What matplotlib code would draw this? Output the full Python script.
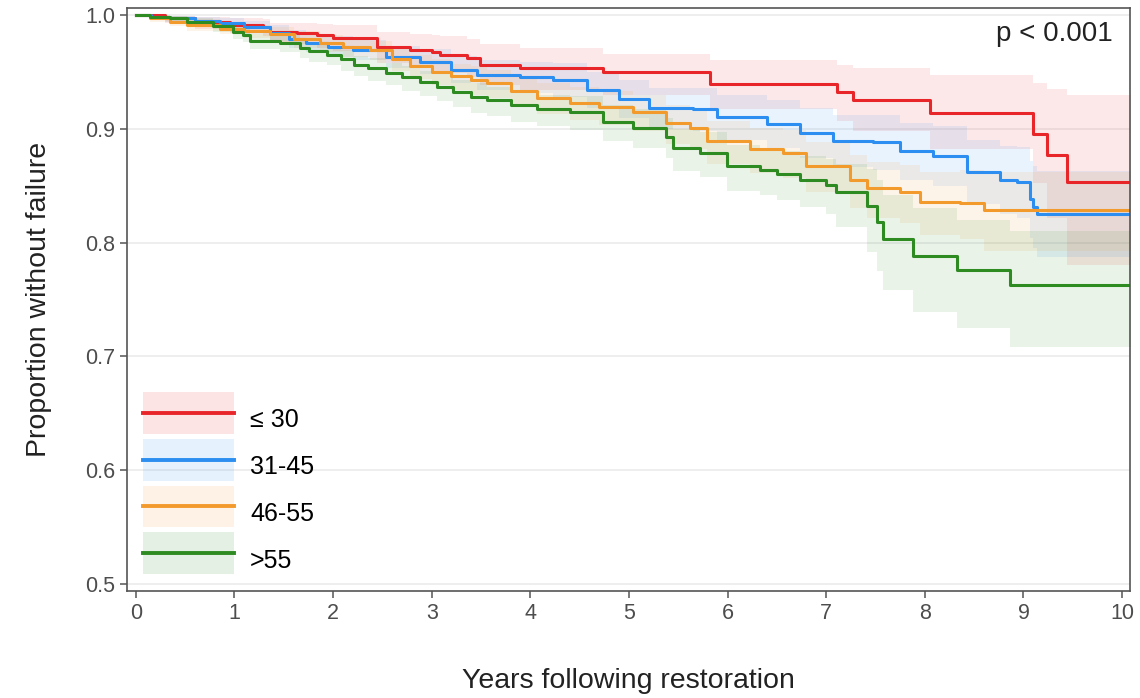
import matplotlib.pyplot as plt
from matplotlib.legend_handler import HandlerPatch
from matplotlib.lines import Line2D
from matplotlib.patches import Patch, Rectangle

# Kaplan-Meier steps (time in years, survival, CI)
red_t = [0, 0.3, 0.6, 0.95, 1.29, 1.36, 1.63, 1.84, 2.0, 2.44, 2.78, 3.0, 3.08, 3.36, 3.49, 3.9,
         4.74, 5.82, 7.11, 7.27, 8.05, 9.1, 9.24, 9.44, 10.1]
red_s = [1.0, 0.997, 0.994, 0.991, 0.989, 0.985, 0.984, 0.982, 0.98, 0.972, 0.969, 0.967, 0.965,
         0.962, 0.956, 0.953, 0.95, 0.939, 0.932, 0.925, 0.914, 0.895, 0.877, 0.853, 0.853]
red_lo = [1.0, 0.993, 0.988, 0.984, 0.981, 0.976, 0.974, 0.971, 0.968, 0.958, 0.954, 0.951, 0.949,
          0.945, 0.938, 0.934, 0.93, 0.917, 0.907, 0.898, 0.882, 0.852, 0.822, 0.78, 0.78]
red_hi = [1.0, 0.999, 0.998, 0.997, 0.996, 0.993, 0.993, 0.992, 0.991, 0.985, 0.983, 0.982, 0.981,
          0.979, 0.974, 0.971, 0.966, 0.96, 0.956, 0.953, 0.947, 0.94, 0.935, 0.93, 0.93]

blue_t = [0, 0.15, 0.3, 0.6, 0.85, 1.1, 1.36, 1.55, 1.73, 1.95, 2.2, 2.54, 2.88, 3.2, 3.46, 3.9,
          4.23, 4.57, 4.9, 5.2, 5.65, 5.89, 6.4, 6.73, 7.07, 7.47, 7.75, 8.08, 8.43, 8.76, 8.93,
          9.07, 9.1, 9.14, 10.1]
blue_s = [1.0, 0.998, 0.997, 0.995, 0.993, 0.989, 0.984, 0.979, 0.975, 0.972, 0.969, 0.963, 0.959,
          0.952, 0.947, 0.945, 0.943, 0.934, 0.926, 0.918, 0.917, 0.91, 0.904, 0.896, 0.889, 0.888,
          0.88, 0.876, 0.862, 0.855, 0.853, 0.838, 0.831, 0.825, 0.825]
blue_lo = [1.0, 0.996, 0.994, 0.991, 0.988, 0.983, 0.977, 0.971, 0.967, 0.963, 0.96, 0.953, 0.948,
           0.94, 0.934, 0.931, 0.928, 0.918, 0.909, 0.9, 0.898, 0.89, 0.883, 0.874, 0.866, 0.864,
           0.855, 0.85, 0.834, 0.825, 0.822, 0.804, 0.795, 0.787, 0.787]
blue_hi = [1.0, 1.0, 0.999, 0.998, 0.997, 0.995, 0.991, 0.987, 0.983, 0.981, 0.978, 0.973, 0.97,
           0.964, 0.96, 0.959, 0.958, 0.95, 0.943, 0.936, 0.936, 0.93, 0.925, 0.918, 0.912, 0.912,
           0.905, 0.902, 0.89, 0.885, 0.884, 0.872, 0.867, 0.863, 0.863]

orange_t = [0, 0.14, 0.35, 0.52, 0.85, 1.1, 1.36, 1.6, 1.87, 2.1, 2.37, 2.6, 2.78, 3.0, 3.2, 3.4,
            3.56, 3.8, 4.07, 4.4, 4.7, 5.04, 5.38, 5.62, 5.79, 6.23, 6.56, 6.8, 7.24, 7.41, 7.75,
            7.95, 8.36, 8.6, 10.1]
orange_s = [1.0, 0.997, 0.994, 0.991, 0.988, 0.986, 0.983, 0.979, 0.975, 0.972, 0.969, 0.961,
            0.955, 0.95, 0.946, 0.943, 0.94, 0.933, 0.927, 0.923, 0.919, 0.915, 0.905, 0.901,
            0.889, 0.882, 0.879, 0.867, 0.855, 0.848, 0.844, 0.836, 0.835, 0.829, 0.829]
orange_lo = [1.0, 0.994, 0.99, 0.986, 0.983, 0.98, 0.976, 0.971, 0.967, 0.963, 0.96, 0.951,
             0.944, 0.938, 0.934, 0.93, 0.927, 0.919, 0.913, 0.908, 0.903, 0.898, 0.887, 0.882,
             0.869, 0.861, 0.857, 0.844, 0.83, 0.822, 0.817, 0.807, 0.803, 0.793, 0.793]
orange_hi = [1.0, 1.0, 0.998, 0.996, 0.993, 0.991, 0.989, 0.986, 0.982, 0.98, 0.977, 0.97,
             0.965, 0.961, 0.957, 0.955, 0.952, 0.946, 0.94, 0.937, 0.933, 0.93, 0.921, 0.918,
             0.907, 0.901, 0.899, 0.888, 0.877, 0.871, 0.868, 0.862, 0.864, 0.862, 0.862]

green_t = [0, 0.14, 0.35, 0.52, 0.78, 0.98, 1.09, 1.16, 1.46, 1.66, 1.76, 1.94, 2.08, 2.21, 2.35,
           2.54, 2.7, 2.88, 3.05, 3.22, 3.4, 3.56, 3.8, 4.07, 4.4, 4.74, 5.04, 5.38, 5.45, 5.72,
           5.99, 6.33, 6.5, 6.73, 7.0, 7.1, 7.41, 7.51, 7.58, 7.88, 8.33, 8.86, 10.1]
green_s = [1.0, 0.998, 0.997, 0.994, 0.99, 0.985, 0.982, 0.977, 0.975, 0.971, 0.968, 0.965, 0.961,
           0.956, 0.953, 0.949, 0.945, 0.941, 0.937, 0.932, 0.928, 0.925, 0.921, 0.917, 0.915,
           0.906, 0.901, 0.893, 0.883, 0.879, 0.867, 0.864, 0.86, 0.855, 0.851, 0.844, 0.832,
           0.818, 0.803, 0.788, 0.776, 0.763, 0.763]
green_lo = [1.0, 0.996, 0.994, 0.99, 0.985, 0.979, 0.976, 0.97, 0.967, 0.962, 0.959, 0.956, 0.951,
            0.946, 0.942, 0.938, 0.933, 0.929, 0.924, 0.919, 0.914, 0.911, 0.906, 0.902, 0.899,
            0.889, 0.883, 0.874, 0.863, 0.858, 0.845, 0.842, 0.837, 0.831, 0.825, 0.814, 0.792,
            0.775, 0.758, 0.739, 0.725, 0.708, 0.708]
green_hi = [1.0, 1.0, 0.999, 0.997, 0.994, 0.99, 0.988, 0.983, 0.982, 0.978, 0.976, 0.973, 0.969,
            0.964, 0.962, 0.958, 0.955, 0.951, 0.948, 0.943, 0.94, 0.937, 0.934, 0.93, 0.929,
            0.921, 0.917, 0.909, 0.9, 0.897, 0.886, 0.883, 0.88, 0.876, 0.873, 0.869, 0.865,
            0.855, 0.842, 0.83, 0.82, 0.81, 0.81]

labels = ["\u2264 30", "31-45", "46-55", ">55"]
colors = ["#e8262a", "#2b8ef0", "#f39a2c", "#2e8b22"]
x_ticks = list(range(0, 11))
y_ticks = [0.5, 0.6, 0.7, 0.8, 0.9, 1.0]

plt.rcParams["font.family"] = ["Liberation Sans", "DejaVu Sans"]


def centered_box(legend, orig_handle, xdescent, ydescent, width, height, fontsize):
    # keep the CI swatch centred on the legend line
    return Rectangle((-xdescent, -ydescent / 2), width, height)


fig = plt.figure(figsize=(11.4, 6.98), dpi=100)
ax = fig.add_axes([0.1114, 0.1533, 0.8798, 0.8352])

series = [
    (red_t, red_s, red_lo, red_hi),
    (blue_t, blue_s, blue_lo, blue_hi),
    (orange_t, orange_s, orange_lo, orange_hi),
    (green_t, green_s, green_lo, green_hi),
]

for (t, s, lo, hi), col in zip(series, colors):
    ax.fill_between(t, lo, hi, step="post", color=col, alpha=0.1, linewidth=0)
for (t, s, lo, hi), col in zip(series, colors):
    ax.step(t, s, where="post", color=col, linewidth=2.2)

ax.set_xlim(-0.09, 10.08)
ax.set_ylim(0.494, 1.006)
ax.set_xticks(x_ticks)
ax.set_yticks(y_ticks)
ax.set_yticklabels([f"{v:.1f}" for v in y_ticks])
ax.yaxis.grid(True, color="#ebebeb", linewidth=1.2)
ax.set_axisbelow(True)
for sp in ax.spines.values():
    sp.set_color("#555555")
    sp.set_linewidth(1.2)
ax.tick_params(axis="both", colors="#555555", labelcolor="#4d4d4d", labelsize=15.5,
               length=5, width=1.1)

ax.set_xlabel("Years following restoration", fontsize=20.5, color="#222222", labelpad=32)
ax.set_ylabel("Proportion without failure", fontsize=20.5, color="#222222", labelpad=24)

ax.text(0.983, 0.977, "p < 0.001", transform=ax.transAxes, ha="right", va="top",
        fontsize=20, color="#222222")

handles = [
    (Patch(facecolor=col, alpha=0.12, edgecolor="none"), Line2D([], [], color=col, linewidth=2.8))
    for col in colors
]
ax.legend(handles, labels, loc="lower left", bbox_to_anchor=(0, -0.01), frameon=False,
          fontsize=18, handlelength=3.64, handleheight=2.2, labelspacing=0.2,
          handletextpad=0.64, borderpad=0.4, borderaxespad=0.24,
          handler_map={Patch: HandlerPatch(patch_func=centered_box)})

fig.savefig("out.png", dpi=100)
